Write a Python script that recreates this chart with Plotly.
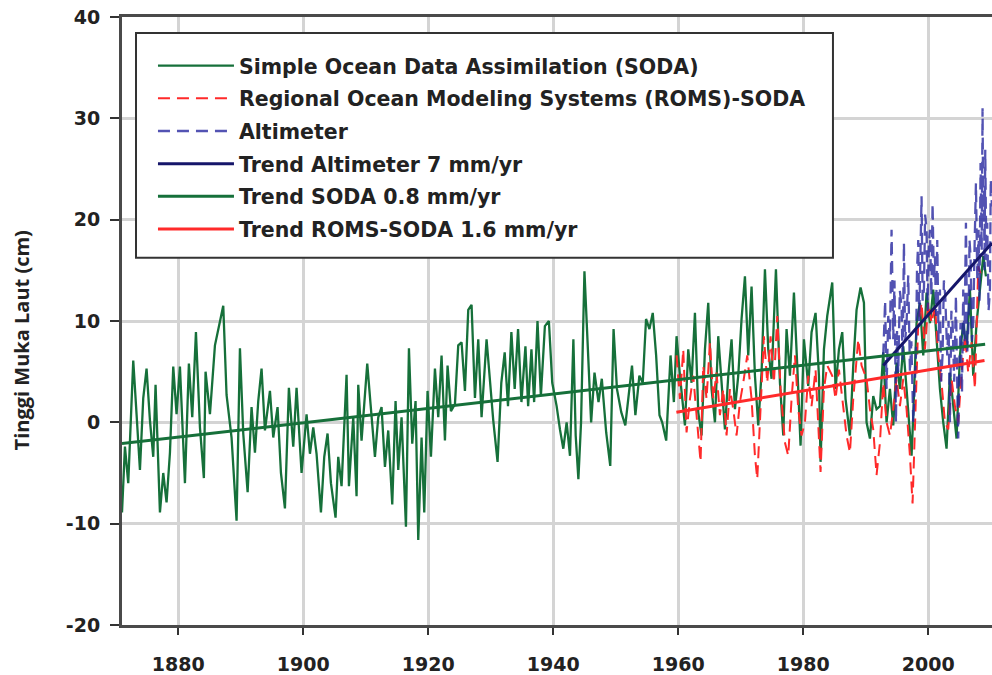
import plotly.graph_objects as go

# ---------------- data ----------------
soda_year = [1871.0, 1871.47, 1872.0, 1872.8, 1873.33, 1873.87, 1874.4, 1874.93, 1875.47, 1876.0,
             1876.37, 1877.07, 1877.6, 1878.13, 1878.67, 1879.2, 1879.73, 1880.27, 1881.07, 1881.7,
             1882.24, 1882.83, 1883.47, 1884.1, 1884.37, 1885.07, 1885.87, 1886.67, 1887.2, 1887.73,
             1888.53, 1889.33, 1889.87, 1890.4, 1891.1, 1891.73, 1892.27, 1892.8, 1893.33, 1893.87,
             1894.67, 1895.2, 1895.89, 1896.43, 1897.07, 1897.7, 1898.4, 1898.93, 1899.73, 1900.53,
             1901.07, 1901.6, 1902.13, 1902.83, 1903.36, 1903.89, 1904.43, 1905.17, 1905.6, 1906.13,
             1906.93, 1907.31, 1908.0, 1908.53, 1908.8, 1909.33, 1909.87, 1910.24, 1910.77, 1911.47,
             1912.0, 1912.53, 1913.07, 1913.6, 1914.24, 1914.77, 1915.2, 1915.73, 1916.43, 1916.91,
             1917.44, 1917.97, 1918.4, 1918.93, 1919.36, 1919.89, 1920.43, 1921.07, 1921.6, 1922.13,
             1922.67, 1923.09, 1923.63, 1924.27, 1924.8, 1925.33, 1925.87, 1926.4, 1926.93, 1927.47,
             1928.0, 1928.53, 1929.33, 1929.87, 1930.4, 1931.09, 1931.69, 1932.23, 1932.76, 1933.3,
             1933.83, 1934.37, 1934.91, 1935.55, 1935.98, 1936.51, 1936.94, 1937.48, 1938.02, 1938.66,
             1939.3, 1939.84, 1940.54, 1941.07, 1941.61, 1942.14, 1942.68, 1943.22, 1943.59, 1944.02,
             1944.45, 1944.99, 1945.52, 1946.06, 1946.6, 1947.24, 1947.77, 1948.47, 1949.12, 1949.65,
             1950.19, 1950.88, 1951.53, 1952.06, 1952.6, 1953.14, 1953.78, 1954.32, 1954.85, 1955.39,
             1955.92, 1956.46, 1957.0, 1957.43, 1958.07, 1958.77, 1959.3, 1959.73, 1960.27, 1961.07,
             1961.6, 1962.13, 1962.67, 1963.2, 1963.73, 1964.27, 1964.8, 1965.33, 1965.87, 1966.4,
             1966.93, 1967.47, 1968.0, 1968.53, 1969.07, 1969.6, 1970.13, 1970.67, 1971.2, 1971.73,
             1972.27, 1972.8, 1973.33, 1973.87, 1974.4, 1974.93, 1975.63, 1976.27, 1976.8, 1977.33,
             1977.87, 1978.51, 1979.04, 1979.57, 1980.11, 1980.8, 1981.33, 1981.97, 1982.51, 1982.77,
             1983.31, 1983.84, 1984.64, 1985.17, 1985.71, 1986.24, 1986.77, 1987.47, 1988.0, 1988.53,
             1989.17, 1989.71, 1990.13, 1990.67, 1991.2, 1991.73, 1992.27, 1992.8, 1993.33, 1993.87,
             1994.4, 1994.93, 1995.47, 1996.0, 1996.53, 1997.33, 1997.6, 1998.13, 1998.67, 1999.2,
             1999.73, 2000.27, 2000.8, 2001.33, 2001.87, 2002.4, 2002.93, 2003.47, 2004.0, 2004.53,
             2005.07, 2005.6, 2006.13, 2006.67, 2007.2, 2007.73, 2008.27, 2008.8, 2009.23]
soda_val = [-8.9, -2.4, -6.0, 6.1, 0.8, -4.7, 2.4, 5.3, 0.2, -3.4,
            3.7, -8.9, -5.0, -7.9, -3.0, 5.5, 0.8, 5.5, -6.0, 5.8,
            0.5, 8.9, -0.5, -5.5, 5.0, 0.8, 7.6, 9.8, 11.5, 2.7,
            -1.5, -9.7, 7.3, -1.1, -6.9, 1.5, -3.0, 2.1, 5.3, -0.8,
            3.1, -1.5, 1.5, -5.0, -8.5, 3.4, -2.4, 3.4, -5.0, 0.8,
            -3.1, -0.5, -3.1, -8.9, -3.4, -1.1, -6.0, -9.4, -3.4, -6.3,
            4.7, -6.3, 0.5, -7.3, 3.7, -1.8, 3.4, 5.8, 1.8, -3.4,
            0.5, 1.5, -4.4, -0.8, -8.1, 2.1, -4.7, 0.5, -10.3, 7.3,
            -2.1, 2.1, -11.6, -1.5, -8.9, 3.1, -3.4, 5.3, 0.5, 6.6,
            -1.8, 5.6, 1.1, 1.8, 7.6, 7.9, 3.1, 11.1, 11.6, 2.4,
            8.2, 0.5, 8.2, 3.7, 0.2, -3.9, 3.9, 6.9, 1.6, 8.9,
            3.3, 9.2, 2.0, 7.5, 1.6, 7.2, 2.0, 10.0, 2.6, 9.5,
            10.0, 3.9, 1.6, -0.7, -2.6, 0.0, -3.3, 8.2, -1.3, -5.6,
            0.0, 14.9, 7.5, 0.0, 4.9, 2.0, 4.3, -1.0, -4.3, 9.2,
            3.3, 1.0, -0.3, 2.6, 5.6, 0.7, 4.6, 3.9, 10.2, 9.2,
            10.8, 6.6, 0.7, 0.0, -1.8, 6.6, 2.0, 8.5, 4.6, -0.3,
            7.2, 3.9, 10.8, 1.0, -1.3, 7.2, 11.8, 3.3, 0.0, 8.5,
            3.6, -0.7, 4.6, 8.2, 1.3, 4.6, 10.2, 14.4, 6.6, 13.4,
            4.6, -0.3, 4.9, 15.1, 7.2, 4.3, 15.1, 3.9, -1.3, 9.2,
            4.6, 12.8, 5.6, -2.3, 8.2, 3.6, 8.9, 10.8, 4.6, -3.9,
            7.2, 10.5, 13.8, 3.3, 7.2, 8.9, 2.3, -1.3, 5.6, 11.1,
            13.3, 11.8, 0.0, -1.6, 2.6, 1.3, 1.6, 6.9, 0.0, 3.3,
            -0.3, 5.9, 3.3, 7.5, 3.3, -3.3, 0.7, 9.8, 11.8, 6.6,
            12.8, 9.8, 13.1, 8.2, 3.3, 0.0, -2.6, 4.9, 1.6, -1.6,
            6.6, 9.8, 7.2, 13.1, 4.6, 9.8, 13.1, 16.4, 14.4]

roms_year = [1959.73, 1960.27, 1960.8, 1961.33, 1961.87, 1962.4, 1962.93, 1963.57, 1964.0, 1964.53,
             1965.07, 1965.6, 1966.13, 1966.67, 1967.2, 1967.73, 1968.27, 1968.8, 1969.33, 1969.87,
             1970.4, 1971.04, 1971.73, 1972.27, 1972.64, 1973.17, 1973.71, 1974.24, 1974.77, 1975.31,
             1975.84, 1976.37, 1977.07, 1977.6, 1978.13, 1978.67, 1979.2, 1979.73, 1980.27, 1980.8,
             1981.33, 1981.97, 1982.51, 1982.77, 1983.31, 1983.84, 1984.64, 1985.17, 1985.71, 1986.24,
             1986.93, 1987.47, 1988.0, 1988.8, 1989.33, 1990.13, 1990.67, 1991.2, 1991.73, 1992.27,
             1992.8, 1993.33, 1993.87, 1994.4, 1994.93, 1995.47, 1996.0, 1996.53, 1997.07, 1997.49,
             1997.87, 1998.4, 1998.93, 1999.47, 2000.0, 2000.53, 2001.07, 2001.6, 2002.13, 2002.67,
             2003.2, 2003.73, 2004.27, 2004.8, 2005.33, 2005.87, 2006.4, 2006.93, 2007.47, 2008.0,
             2008.53]
roms_val = [6.6, 2.3, 7.2, -1.0, 2.3, 4.6, 0.7, -3.9, 5.6, 2.3,
            7.9, 2.3, 4.9, 0.7, 3.3, -1.3, 3.3, 1.3, -1.3, 2.0,
            3.9, 6.6, 2.3, -3.3, -5.6, 0.7, 8.5, 3.9, 8.5, 3.9,
            10.5, 3.3, -2.0, -3.3, 2.3, 6.6, 1.3, -1.3, 0.0, 4.6,
            1.6, 5.2, -2.0, -4.9, 3.3, 5.6, 4.6, 2.3, 5.2, 2.6,
            -1.3, -3.0, 2.3, 8.2, 5.6, 4.3, 1.3, -0.7, -5.2, -2.0,
            3.9, 0.0, -1.3, 1.3, 4.3, 1.6, 4.3, 1.3, -3.3, -8.0,
            0.0, 9.8, 11.8, 7.2, 11.8, 9.8, 11.5, 6.6, 3.9, 0.0,
            -0.7, 4.3, 1.6, 0.0, 4.9, 8.5, 4.9, 7.9, 3.3, 15.4,
            14.4]

alt_year = [1992.8, 1993.1, 1993.33, 1993.6, 1993.87, 1994.13, 1994.4, 1994.6, 1994.83, 1995.0,
            1995.2, 1995.45, 1995.73, 1995.9, 1996.11, 1996.3, 1996.53, 1996.8, 1997.07, 1997.3,
            1997.6, 1998.03, 1998.2, 1998.4, 1998.55, 1998.67, 1998.8, 1998.93, 1999.1, 1999.31,
            1999.5, 1999.73, 1999.9, 2000.1, 2000.27, 2000.5, 2000.69, 2000.9, 2001.07, 2001.25,
            2001.44, 2001.65, 2001.87, 2002.05, 2002.29, 2002.5, 2002.72, 2003.04, 2003.25, 2003.47,
            2003.7, 2003.89, 2004.15, 2004.43, 2004.6, 2004.8, 2005.0, 2005.17, 2005.4, 2005.6,
            2005.8, 2006.03, 2006.25, 2006.45, 2006.6, 2006.77, 2007.0, 2007.2, 2007.4, 2007.63,
            2007.85, 2008.05, 2008.2, 2008.37, 2008.55, 2008.69, 2008.8, 2008.91, 2009.0, 2009.12,
            2009.3, 2009.44, 2009.65, 2009.87, 2010.0, 2010.19]
alt_val = [6.6, 12.0, 3.3, 10.5, 8.2, 19.0, 8.2, 14.0, 0.0, 9.0,
           4.9, 13.0, 11.5, 6.0, 17.7, 8.0, 9.8, 14.5, 4.9, 8.0,
           0.0, 6.6, 15.0, 18.0, 10.0, 14.4, 20.0, 22.3, 12.0, 13.1,
           20.5, 19.0, 11.0, 17.5, 19.0, 12.5, 21.6, 14.0, 16.4, 10.5,
           18.0, 8.0, 13.1, 4.0, 6.6, 14.0, 12.5, 6.6, 10.0, 0.0,
           11.0, 9.8, 4.0, 12.5, 5.0, -1.6, 6.0, 9.8, 3.0, 13.1,
           8.0, 19.7, 7.0, 9.8, 18.0, 16.4, 8.0, 9.8, 17.0, 23.6,
           14.0, 19.0, 12.0, 25.6, 17.0, 31.0, 20.0, 23.0, 15.0, 26.9,
           16.0, 19.7, 11.0, 13.1, 24.0, 21.3]

trend_alt_year = [1992.8, 2010.2]
trend_alt_val = [5.6, 17.7]
trend_soda_year = [1871.0, 2009.1]
trend_soda_val = [-2.1, 7.7]
trend_roms_year = [1959.7, 2009.0]
trend_roms_val = [1.0, 6.1]

x_ticks = [1880, 1900, 1920, 1940, 1960, 1980, 2000]
x_ticklabels = ["1880", "1900", "1920", "1940", "1960", "1980", "2000"]
y_ticks = [-20, -10, 0, 10, 20, 30, 40]
y_ticklabels = ["-20", "-10", "0", "10", "20", "30", "40"]

names = [
    "Simple Ocean Data Assimilation (SODA)",
    "Regional Ocean Modeling Systems (ROMS)-SODA",
    "Altimeter",
    "Trend Altimeter 7 mm/yr",
    "Trend SODA 0.8 mm/yr",
    "Trend ROMS-SODA 1.6 mm/yr",
]
y_title = "Tinggi Muka Laut (cm)"

# ---------------- figure ----------------
fig = go.Figure()
fig.add_trace(go.Scatter(x=soda_year, y=soda_val, mode="lines", name=names[0], legendgroup="g1",
                         line=dict(color="#16703a", width=2.3)))
fig.add_trace(go.Scatter(x=roms_year, y=roms_val, mode="lines", name=names[1], legendgroup="g2",
                         line=dict(color="#ff2a2a", width=2, dash="12px,7px")))
fig.add_trace(go.Scatter(x=alt_year, y=alt_val, mode="lines", name=names[2], legendgroup="g3",
                         opacity=0.8, line=dict(color="#2828a0", width=2.3, dash="12px,7px")))
fig.add_trace(go.Scatter(x=trend_alt_year, y=trend_alt_val, mode="lines", name=names[3], legendgroup="g4",
                         line=dict(color="#16166a", width=3)))
fig.add_trace(go.Scatter(x=trend_soda_year, y=trend_soda_val, mode="lines", name=names[4], legendgroup="g5",
                         line=dict(color="#16703a", width=3)))
fig.add_trace(go.Scatter(x=trend_roms_year, y=trend_roms_val, mode="lines", name=names[5], legendgroup="g6",
                         line=dict(color="#ff2a2a", width=3)))

tick_font = dict(family="DejaVu Sans", size=19, color="#222222", weight="bold")

fig.update_layout(
    width=992, height=675,
    margin=dict(l=122, r=0, t=17, b=47),
    paper_bgcolor="white", plot_bgcolor="white",
    showlegend=True,
    legend=dict(
        x=0.0356, y=0.9525, xanchor="left", yanchor="top",
        bgcolor="rgba(0,0,0,0)", borderwidth=0,
        font=dict(family="DejaVu Sans", size=20.5, color="#222222", weight="bold"),
        traceorder="grouped", tracegroupgap=3, itemwidth=76,
    ),
    shapes=[dict(type="rect", xref="paper", yref="paper",
                 x0=0.0161, x1=0.8172, y0=0.6039, y1=0.9738,
                 fillcolor="white", line=dict(color="#333333", width=2), layer="above")],
    annotations=[dict(text=y_title, textangle=-90, xref="paper", yref="paper",
                      x=-0.115, y=0.468, xanchor="center", yanchor="middle", showarrow=False,
                      font=dict(family="Open Sans", size=20, color="#222222", weight="bold"))],
    xaxis=dict(
        range=[1871, 2010.2], tickvals=x_ticks, ticktext=x_ticklabels,
        showgrid=True, gridcolor="#d4d4d4", gridwidth=2.5,
        showline=True, linecolor="#4a4a4a", linewidth=3, mirror=True,
        ticks="outside", ticklen=7, tickwidth=2, tickcolor="#333333",
        tickfont=tick_font, ticklabelstandoff=13, zeroline=False,
    ),
    yaxis=dict(
        range=[-20, 40], tickvals=y_ticks, ticktext=y_ticklabels,
        showgrid=True, gridcolor="#d4d4d4", gridwidth=2.5,
        showline=True, linecolor="#4a4a4a", linewidth=3,
        ticks="outside", ticklen=9, tickwidth=2, tickcolor="#333333",
        tickfont=tick_font, ticklabelstandoff=6, zeroline=False,
    ),
)

fig.write_html("out.html")
